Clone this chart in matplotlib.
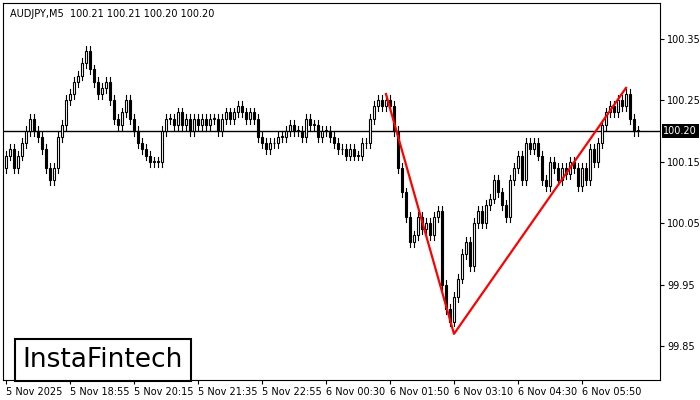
import matplotlib.pyplot as plt
import numpy as np
from matplotlib.patches import Rectangle

closes = [100.16, 100.17, 100.14, 100.16, 100.18, 100.20, 100.22, 100.20, 100.19, 100.17,
          100.14, 100.12, 100.14, 100.19, 100.21, 100.25, 100.26, 100.28, 100.29, 100.31,
          100.33, 100.30, 100.28, 100.26, 100.27, 100.28, 100.25, 100.22, 100.21, 100.23,
          100.25, 100.22, 100.20, 100.18, 100.17, 100.16, 100.15, 100.15, 100.15, 100.20,
          100.22, 100.22, 100.21, 100.23, 100.21, 100.22, 100.20, 100.22, 100.21, 100.22,
          100.21, 100.22, 100.22, 100.20, 100.22, 100.23, 100.22, 100.23, 100.24, 100.23,
          100.22, 100.23, 100.22, 100.19, 100.18, 100.17, 100.18, 100.18, 100.19, 100.19,
          100.20, 100.21, 100.20, 100.20, 100.19, 100.22, 100.21, 100.21, 100.19, 100.20,
          100.20, 100.19, 100.18, 100.17, 100.17, 100.16, 100.17, 100.16, 100.16, 100.18,
          100.18, 100.22, 100.24, 100.25, 100.24, 100.25, 100.24, 100.20, 100.14, 100.10,
          100.06, 100.02, 100.03, 100.06, 100.04, 100.05, 100.03, 100.06, 100.07, 99.95,
          99.91, 99.89, 99.93, 99.96, 100.00, 100.02, 99.98, 100.05, 100.07, 100.05,
          100.08, 100.09, 100.12, 100.10, 100.08, 100.06, 100.12, 100.14, 100.16, 100.12,
          100.18, 100.17, 100.18, 100.16, 100.12, 100.11, 100.15, 100.14, 100.12, 100.14,
          100.13, 100.15, 100.14, 100.11, 100.14, 100.12, 100.17, 100.15, 100.18, 100.21,
          100.23, 100.24, 100.23, 100.25, 100.24, 100.26, 100.22, 100.20, 100.20]
first_open = 100.14
pattern_idx = [95, 112, 155]
pattern_price = [100.26, 99.87, 100.27]
last_price = 100.20
tick_labels = ["5 Nov 2025", "5 Nov 18:55", "5 Nov 20:15", "5 Nov 21:35", "5 Nov 22:55",
               "6 Nov 00:30", "6 Nov 01:50", "6 Nov 03:10", "6 Nov 04:30", "6 Nov 05:50"]
y_ticks = [99.85, 99.95, 100.05, 100.15, 100.25, 100.35]

closes = np.array(closes)
opens = np.concatenate([[first_open], closes[:-1]])
n = len(closes)

fig = plt.figure(figsize=(7, 4), dpi=100)
ax = fig.add_axes([3 / 700, 20 / 400, 657 / 700, 377 / 400])

for i in range(n):
    o, c = opens[i], closes[i]
    lo, hi = min(o, c), max(o, c)
    ax.plot([i, i], [lo - 0.008, hi + 0.008], color="black", lw=0.8, zorder=2)
    h = max(hi - lo, 0.001)
    ax.add_patch(Rectangle((i - 0.35, lo), 0.7, h, facecolor="white" if c >= o else "black",
                           edgecolor="black", lw=0.8, zorder=3))

ax.axhline(last_price, color="black", lw=1, zorder=1)
ax.plot(pattern_idx, pattern_price, color="red", lw=1.6, zorder=4)

ax.set_xlim(-0.75, 163.5)
ax.set_ylim(99.795, 100.408)
ax.set_xticks(np.arange(len(tick_labels)) * 16)
ax.set_xticklabels(tick_labels, fontsize=7, ha="left")
ax.yaxis.tick_right()
ax.set_yticks(y_ticks)
ax.set_yticklabels([f"{v:.2f}" for v in y_ticks], fontsize=7)
ax.tick_params(length=3, pad=2)
ax.text(1.005, last_price, "100.20", transform=ax.get_yaxis_transform(), fontsize=7,
        ha="left", va="center", color="white",
        bbox=dict(facecolor="black", edgecolor="none", pad=1.2), clip_on=False)
ax.text(0.01, 0.985, "AUDJPY,M5  100.21 100.21 100.20 100.20", transform=ax.transAxes,
        fontsize=7, va="top")

fig.text(103 / 700, 1 - 360 / 400, "InstaFintech", fontsize=19, ha="center", va="center",
         bbox=dict(facecolor="white", edgecolor="black", lw=1.5, boxstyle="square,pad=0.3"))

fig.savefig("out.png")
